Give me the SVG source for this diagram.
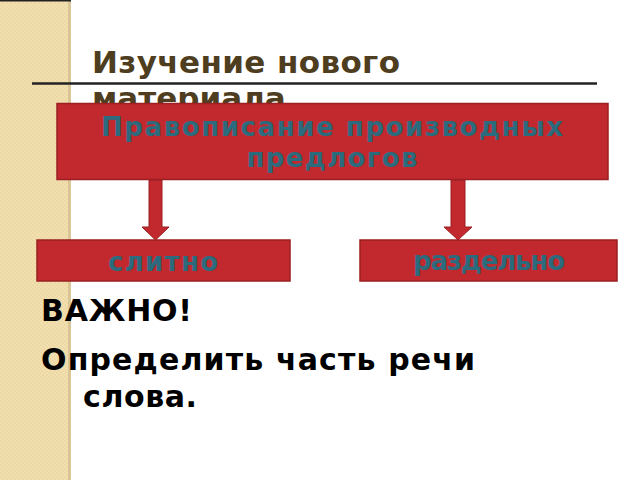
<svg xmlns="http://www.w3.org/2000/svg" width="640" height="480" viewBox="0 0 640 480">
<defs>
<style>
.box{fill:#c1292e;stroke:#9c1f22;stroke-width:1.5}
.arrow{fill:#c1292e;stroke:#9c1f22;stroke-width:1}
.lbl{font-family:"DejaVu Sans",sans-serif;font-weight:bold;fill:#2b6b7d;text-anchor:middle}
.body{font-family:"DejaVu Sans",sans-serif;font-weight:bold;fill:#000}
.ttl{font-family:"DejaVu Sans",sans-serif;font-weight:bold;fill:#4e3e1f}
</style>
<pattern id="tex" width="4" height="4" patternUnits="userSpaceOnUse">
<rect width="4" height="4" fill="#f1dfb0"/>
<rect width="2" height="2" fill="#ecd9a6"/>
<rect x="2" y="2" width="2" height="2" fill="#ecd9a6"/>
</pattern>
</defs>
<rect width="640" height="480" fill="#fff"/>
<rect x="0" y="0" width="70" height="480" fill="url(#tex)"/>
<rect x="68" y="0" width="3" height="480" fill="#d9c596"/>
<line x1="0" y1="0.8" x2="71" y2="0.8" stroke="#222" stroke-width="1.6"/>
<g id="title">
<text class="ttl" x="92" y="73" font-size="31" textLength="308" lengthAdjust="spacing">Изучение нового</text>
<text class="ttl" x="92" y="109" font-size="31">материала</text>
<line x1="32" y1="83.5" x2="597" y2="83.5" stroke="#222" stroke-width="2.5"/>
</g>
<g id="connectors">
<path class="arrow" d="M149,180 H162 V227 H169 L155.5,240 L142,227 H149 Z"/>
<path class="arrow" d="M451,180 H465 V227 H472 L458,240 L444,227 H451 Z"/>
</g>
<g id="main">
<rect class="box" x="57" y="103.5" width="551" height="76"/>
<text class="lbl" x="332" y="136" font-size="26" textLength="462" lengthAdjust="spacing">Правописание производных</text>
<text class="lbl" x="332" y="167" font-size="26" textLength="171" lengthAdjust="spacing">предлогов</text>
</g>
<g id="slitno">
<rect class="box" x="37" y="240" width="253" height="41"/>
<text class="lbl" x="163" y="271" font-size="26" textLength="110" lengthAdjust="spacing">слитно</text>
</g>
<g id="razdelno">
<rect class="box" x="360" y="240" width="257" height="41"/>
<text class="lbl" x="489" y="270" font-size="26" textLength="152" lengthAdjust="spacing">раздельно</text>
</g>
<g id="note">
<text class="body" x="41" y="321" font-size="30" textLength="151" lengthAdjust="spacing">ВАЖНО!</text>
<text class="body" x="41" y="370" font-size="30" textLength="434" lengthAdjust="spacing">Определить часть речи</text>
<text class="body" x="83" y="407" font-size="30" textLength="114" lengthAdjust="spacing">слова.</text>
</g>
</svg>
